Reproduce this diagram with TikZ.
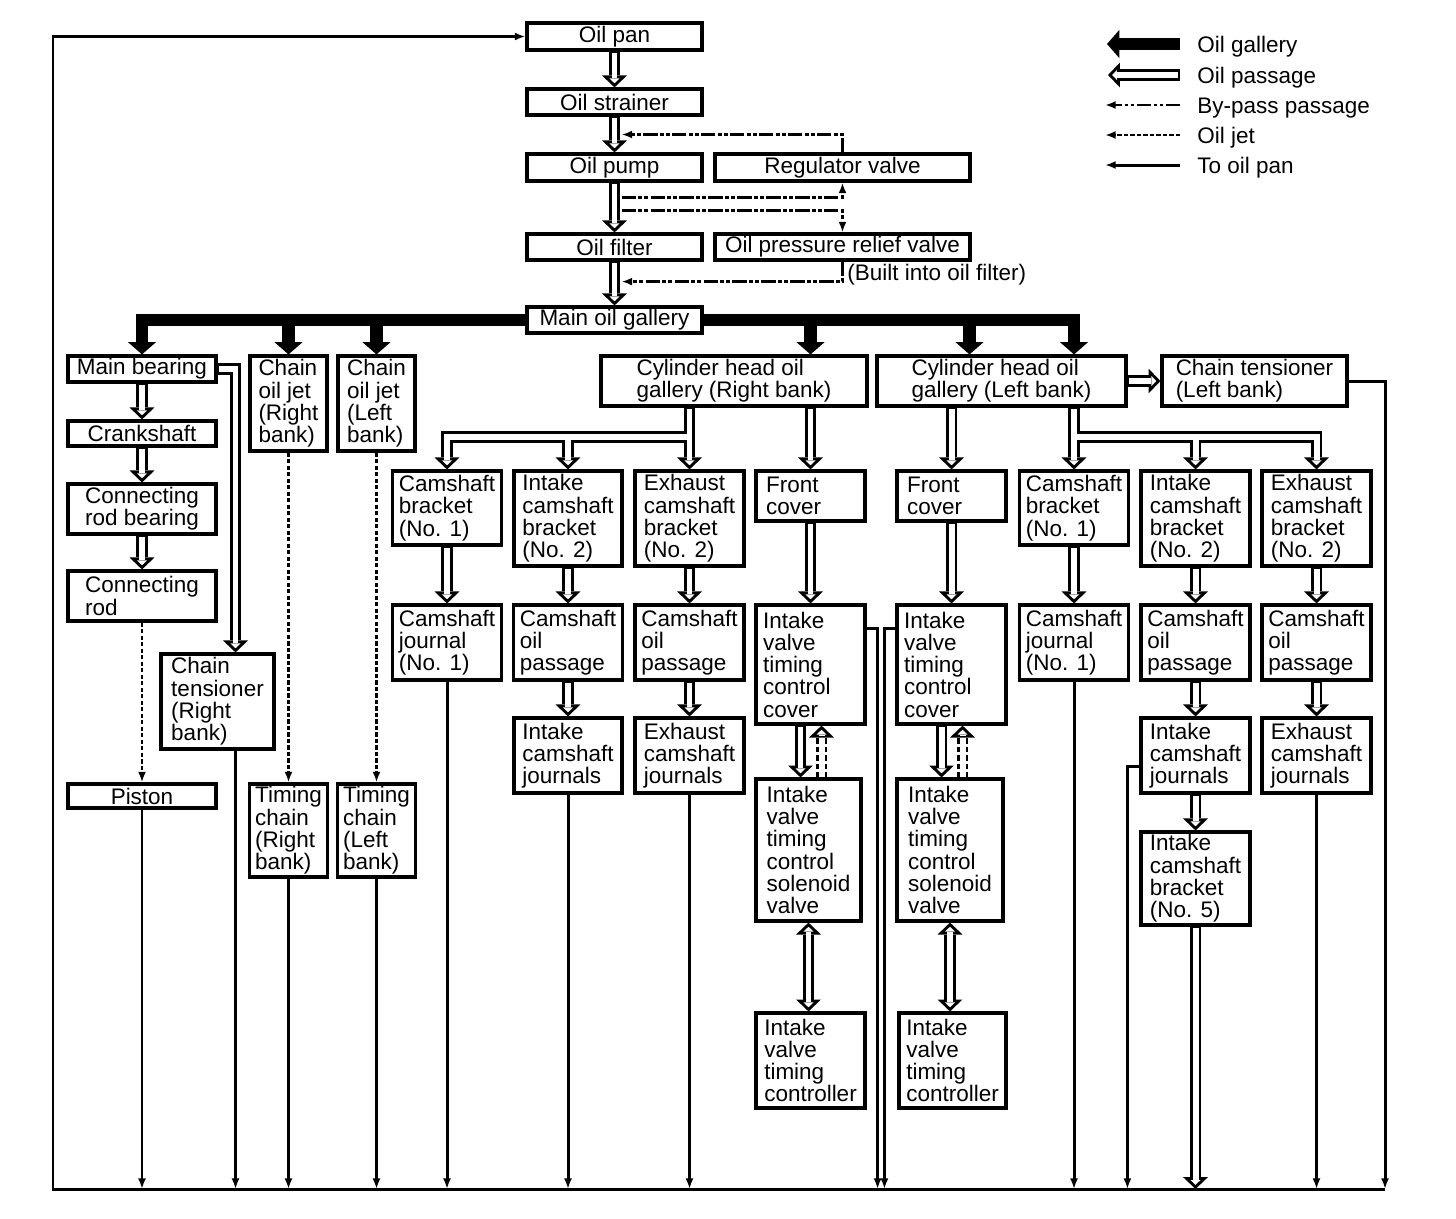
\documentclass[tikz,border=0pt]{standalone}
\usepackage{fontspec}
\setmainfont{Liberation Sans}
\usetikzlibrary{arrows.meta, calc}

\begin{document}
\begin{tikzpicture}[
    x = 0.02cm,
    y = -0.02cm,
    part/.style = {draw, line width=1.8pt, fill=white, inner xsep=0.12cm, inner ysep=0pt,
        align=left, font=\fontsize{12.8pt}{12.66pt}\selectfont},
    legend/.style = {inner sep=0pt, anchor=base west, font=\fontsize{12.8pt}{12.66pt}\selectfont},
    gallery/.style = {line width=7pt, -{Triangle[length=7pt, width=16pt, line width=0pt]}},
    bypass/.style = {line width=1.4pt, dash pattern=on 8pt off 1.5pt on 2pt off 1.5pt on 2pt off 1.5pt,
        -{Latex[length=6pt, width=4.5pt]}},
    jet/.style = {line width=1.4pt, dash pattern=on 2.5pt off 1.2pt, -{Latex[length=6pt, width=4.5pt]}},
    topan/.style = {line width=1.7pt, -{Latex[length=6pt, width=4.5pt]}}
]

\fill[white] (0,0) rectangle (1456,1218);

% 1. Pump side, top to bottom
\node[part, minimum width=3.5cm, minimum height=0.54cm] (pan) at (614.5,36.5) {Oil pan};
\node[part, minimum width=3.5cm, minimum height=0.52cm] (strainer) at (614.5,102) {Oil strainer};
\node[part, minimum width=3.5cm, minimum height=0.54cm] (pump) at (614.5,167.5) {Oil pump};
\node[part, minimum width=5.1cm, minimum height=0.54cm] (reg) at (842.5,167.5) {Regulator valve};
\node[part, minimum width=3.5cm, minimum height=0.52cm] (filter) at (614.5,247) {Oil filter};
\node[part, minimum width=5.1cm, minimum height=0.52cm] (relief) at (842.5,247) {Oil pressure relief valve};
\node[legend] (builtin) at (847,280) {(Built into oil filter)};
\node[part, minimum width=3.5cm, minimum height=0.52cm] (main) at (614.5,320) {Main oil gallery};

% 2. Crank side
\node[part, minimum width=2.96cm, minimum height=0.52cm] (bear) at (142,369) {Main bearing};
\node[part, minimum width=2.96cm, minimum height=0.5cm] (crank) at (142,433.5) {Crankshaft};
\node[part, minimum width=2.96cm, minimum height=1cm] (crbear) at (142,509) {Connecting\\rod bearing};
\node[part, minimum width=2.96cm, minimum height=1cm] (crod) at (142,596) {Connecting\\rod};
\node[part, minimum width=2.96cm, minimum height=0.48cm] (piston) at (142,796) {Piston};
\node[part, minimum width=2.26cm, minimum height=1.9cm] (tensR) at (217.5,701.5) {Chain\\tensioner\\(Right\\bank)};
\node[part, minimum width=1.54cm, minimum height=1.9cm] (jetR) at (288.5,403.5) {Chain\\oil jet\\(Right\\bank)};
\node[part, minimum width=1.54cm, minimum height=1.9cm] (jetL) at (376.5,403.5) {Chain\\oil jet\\(Left\\bank)};
\node[part, minimum width=1.54cm, minimum height=1.86cm] (tchR) at (288.5,830.5) {Timing\\chain\\(Right\\bank)};
\node[part, minimum width=1.54cm, minimum height=1.86cm] (tchL) at (376.5,830.5) {Timing\\chain\\(Left\\bank)};

% 3. Right bank head
\node[part, minimum width=5.32cm, minimum height=1cm] (cylR) at (734,381) {Cylinder head oil\\gallery (Right bank)};
\node[part, minimum width=2.16cm, minimum height=1.48cm] (cbR) at (447,508) {Camshaft\\bracket\\(No. 1)};
\node[part, minimum width=2.16cm, minimum height=1.9cm] (ibR) at (568,518.5) {Intake\\camshaft\\bracket\\(No. 2)};
\node[part, minimum width=2.18cm, minimum height=1.9cm] (ebR) at (689.5,518.5) {Exhaust\\camshaft\\bracket\\(No. 2)};
\node[part, minimum width=2.18cm, minimum height=1cm, text width=1.78cm] (fcR) at (810.5,496) {Front\\cover};
\node[part, minimum width=2.16cm, minimum height=1.5cm] (cjR) at (447,642.5) {Camshaft\\journal\\(No. 1)};
\node[part, minimum width=2.16cm, minimum height=1.5cm] (opR1) at (568,642.5) {Camshaft\\oil\\passage};
\node[part, minimum width=2.18cm, minimum height=1.5cm] (opR2) at (689.5,642.5) {Camshaft\\oil\\passage};
\node[part, minimum width=2.18cm, minimum height=2.38cm, text width=1.9cm] (ivcR) at (810.5,664.5) {Intake\\valve\\timing\\control\\cover};
\node[part, minimum width=2.16cm, minimum height=1.5cm] (ijR) at (568,755.5) {Intake\\camshaft\\journals};
\node[part, minimum width=2.18cm, minimum height=1.5cm] (ejR) at (689.5,755.5) {Exhaust\\camshaft\\journals};
\node[part, minimum width=2.1cm, minimum height=2.84cm] (ivsR) at (808.5,850) {Intake\\valve\\timing\\control\\solenoid\\valve};
\node[part, minimum width=2.18cm, minimum height=1.9cm] (ivtR) at (810.5,1060.5) {Intake\\valve\\timing\\controller};

% 4. Left bank head
\node[part, minimum width=4.98cm, minimum height=1cm] (cylL) at (1001.5,381) {Cylinder head oil\\gallery (Left bank)};
\node[part, minimum width=3.7cm, minimum height=1cm] (tensL) at (1254.5,381) {Chain tensioner\\(Left bank)};
\node[part, minimum width=2.18cm, minimum height=1cm, text width=1.78cm] (fcL) at (951.5,496) {Front\\cover};
\node[part, minimum width=2.18cm, minimum height=2.38cm, text width=1.9cm] (ivcL) at (951.5,664.5) {Intake\\valve\\timing\\control\\cover};
\node[part, minimum width=2.12cm, minimum height=2.84cm] (ivsL) at (950,850) {Intake\\valve\\timing\\control\\solenoid\\valve};
\node[part, minimum width=2.14cm, minimum height=1.9cm] (ivtL) at (952.5,1060.5) {Intake\\valve\\timing\\controller};
\node[part, minimum width=2.16cm, minimum height=1.48cm] (cbL) at (1074,508) {Camshaft\\bracket\\(No. 1)};
\node[part, minimum width=2.18cm, minimum height=1.9cm] (ibL) at (1195.5,518.5) {Intake\\camshaft\\bracket\\(No. 2)};
\node[part, minimum width=2.18cm, minimum height=1.9cm] (ebL) at (1316.5,518.5) {Exhaust\\camshaft\\bracket\\(No. 2)};
\node[part, minimum width=2.16cm, minimum height=1.5cm] (cjL) at (1074,642.5) {Camshaft\\journal\\(No. 1)};
\node[part, minimum width=2.18cm, minimum height=1.5cm] (opL1) at (1195.5,642.5) {Camshaft\\oil\\passage};
\node[part, minimum width=2.18cm, minimum height=1.5cm] (opL2) at (1316.5,642.5) {Camshaft\\oil\\passage};
\node[part, minimum width=2.18cm, minimum height=1.5cm] (ijL) at (1195.5,755.5) {Intake\\camshaft\\journals};
\node[part, minimum width=2.18cm, minimum height=1.5cm] (ejL) at (1316.5,755.5) {Exhaust\\camshaft\\journals};
\node[part, minimum width=2.18cm, minimum height=1.86cm] (ib5L) at (1195.5,878.5) {Intake\\camshaft\\bracket\\(No. 5)};

% 5. Legend
\node[legend] (lgGal) at (1197,52) {Oil gallery};
\node[legend] (lgPas) at (1197,83) {Oil passage};
\node[legend] (lgByp) at (1197,113) {By-pass passage};
\node[legend] (lgJet) at (1197,143) {Oil jet};
\node[legend] (lgRet) at (1197,173) {To oil pan};

% helper points
\coordinate (panBL) at (53,1189);
\coordinate (panBR) at (1385,1189);
\coordinate (tensRi) at ($(tensR.north)+(18,0)$);
\coordinate (tensRo) at ($(tensR.south)+(18,0)$);
\coordinate (splitR) at ($(cylR.south -| ebR.north)+(0,29)$);
\coordinate (splitL) at ($(cylL.south -| cbL.north)+(0,29)$);
\coordinate (ivcRa) at ($(ivcR.south)+(-10,0)$);
\coordinate (ivcRb) at ($(ivcR.south)+(11,0)$);
\coordinate (ivcLa) at ($(ivcL.south)+(-10,0)$);
\coordinate (ivcLb) at ($(ivcL.south)+(11,0)$);
\coordinate (galR) at (cylR.north -| fcR.north);
\coordinate (galL) at ($(cylL.north)+(-32,0)$);
\coordinate (bpA) at ($(strainer.south)!0.5!(pump.north)+(7,0)$);
\coordinate (bpB) at ($(pump.south)+(7,15)$);
\coordinate (bpC) at ($(pump.south)+(7,28)$);
\coordinate (bpD) at ($(filter.south)+(7,20)$);
\coordinate (retR) at ($(ivcR.north east)+(11,25)$);
\coordinate (retL) at ($(ivcL.north west)+(-11,25)$);
\coordinate (retJ) at ($(ijL.west)+(-12,11)$);

% 6. Oil passages, outline first and then the hollow inside
\foreach \lw/\col/\sh/\sb/\tl/\tw in {6.8pt/black/0pt/0pt/6.8pt/14.2pt, 3.4pt/white/2.4pt/1pt/2.7pt/5.7pt} {
    \tikzset{
        pipe/.style = {line width=\lw, draw=\col, shorten >=\sh, shorten <=\sb,
            -{Triangle[length=\tl, width=\tw, line width=0pt]}},
        pipe both/.style = {pipe, shorten <=\sh,
            {Triangle[length=\tl, width=\tw, line width=0pt]}-{Triangle[length=\tl, width=\tw, line width=0pt]}}
    }
    \draw[pipe] (pan) -- (strainer);
    \draw[pipe] (strainer) -- (pump);
    \draw[pipe] (pump) -- (filter);
    \draw[pipe] (filter) -- (main);

    \draw[pipe] (bear) -- (crank);
    \draw[pipe] (crank) -- (crbear);
    \draw[pipe] (crbear) -- (crod);
    \draw[pipe] (bear.east) -| (tensRi);

    \draw[pipe] (cylR.south -| fcR.north) -- (fcR.north);
    \draw[pipe] (cylR.south -| ebR.north) -- (ebR.north);
    \draw[pipe] (cylR.south -| ebR.north) -- (splitR) -| (cbR.north);
    \draw[pipe] (splitR -| ibR.north) -- (ibR.north);
    \draw[pipe] (cbR) -- (cjR);
    \draw[pipe] (ibR) -- (opR1);
    \draw[pipe] (opR1) -- (ijR);
    \draw[pipe] (ebR) -- (opR2);
    \draw[pipe] (opR2) -- (ejR);
    \draw[pipe] (fcR) -- (ivcR);
    \draw[pipe] (ivcRa) -- (ivcRa |- ivsR.north);
    \draw[pipe, shorten <=0pt, dash pattern=on 3pt off 1.8pt] (ivcRb |- ivsR.north) -- (ivcRb);
    \draw[pipe both] (ivsR.south) -- (ivsR.south |- ivtR.north);

    \draw[pipe] (cylL.east) -- (tensL.west);
    \draw[pipe] (cylL.south -| fcL.north) -- (fcL.north);
    \draw[pipe] (cylL.south -| cbL.north) -- (cbL.north);
    \draw[pipe] (cylL.south -| cbL.north) -- (splitL) -| (ebL.north);
    \draw[pipe] (splitL -| ibL.north) -- (ibL.north);
    \draw[pipe] (cbL) -- (cjL);
    \draw[pipe] (ibL) -- (opL1);
    \draw[pipe] (opL1) -- (ijL);
    \draw[pipe] (ijL) -- (ib5L);
    \draw[pipe] (ebL) -- (opL2);
    \draw[pipe] (opL2) -- (ejL);
    \draw[pipe] (fcL) -- (ivcL);
    \draw[pipe] (ivcLa) -- (ivcLa |- ivsL.north);
    \draw[pipe, shorten <=0pt, dash pattern=on 3pt off 1.8pt] (ivcLb |- ivsL.north) -- (ivcLb);
    \draw[pipe both] (ivsL.south) -- (ivsL.south |- ivtL.north);
    \draw[pipe] (ib5L.south) -- (ib5L.south |- panBL);

    \draw[pipe] ($(lgPas.base west)+(-17,-8)$) -- ++(-72,0);
}

% 7. Oil gallery
\draw[gallery] (main.west) -| (bear.north);
\draw[gallery] (main.east) -| (cylL.north -| cbL.north);
\foreach \t in {jetR.north, jetL.north, galR, galL}
    \draw[gallery] (\t |- main.west) -- (\t);
\draw[gallery] ($(lgGal.base west)+(-17,-8)$) -- ++(-73,0);

% 8. By-pass passages
\draw[bypass] (reg.north) |- (bpA);
\draw[bypass] (bpB) -| (reg.south);
\draw[bypass] (bpC) -| (relief.north);
\draw[bypass] (relief.south) |- (bpD);
\draw[bypass] ($(lgByp.base west)+(-17,-8)$) -- ++(-75,0);

% 9. Oil jets
\draw[jet] (crod) -- (piston);
\draw[jet] (jetR) -- (tchR);
\draw[jet] (jetL) -- (tchL);
\draw[jet] ($(lgJet.base west)+(-17,-8)$) -- ++(-75,0);

% 10. Back to the oil pan
\foreach \n in {piston, tchR, tchL, cjR, ijR, ejR, cjL, ejL}
    \draw[topan] (\n.south) -- (\n.south |- panBL);
\draw[topan] (tensRo) -- (tensRo |- panBL);
\draw[topan] (retR -| ivcR.east) -- (retR) -- (retR |- panBL);
\draw[topan] (retL -| ivcL.west) -- (retL) -- (retL |- panBL);
\draw[topan] (retJ -| ijL.west) -- (retJ) -- (retJ |- panBL);
\draw[topan] (tensL.east) -| (panBR);
\draw[topan] (panBR) -- (panBL) |- (pan.west);
\draw[topan] ($(lgRet.base west)+(-17,-8)$) -- ++(-75,0);

\end{tikzpicture}
\end{document}
